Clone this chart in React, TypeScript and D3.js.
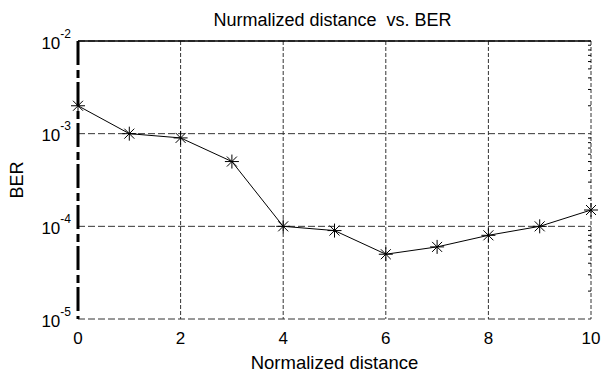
import React from "react";
import * as d3 from "d3";

const xValues = [0, 1, 2, 3, 4, 5, 6, 7, 8, 9, 10];
const berValues = [2e-3, 1e-3, 9e-4, 5e-4, 1e-4, 9e-5, 5e-5, 6e-5, 8e-5, 1e-4, 1.5e-4];
const xTicks = [0, 2, 4, 6, 8, 10];
const yTickExps = [-2, -3, -4, -5];

const W = 603, H = 376;
const L = 78, R = 591, T = 41, B = 319;

export default function App() {
  const x = d3.scaleLinear().domain([0, 10]).range([L, R]);
  const y = d3.scaleLog().domain([1e-5, 1e-2]).range([B, T]);
  const line = d3.line<number>().x((_, i) => x(xValues[i])).y((d) => y(d));
  const minor: number[] = [];
  for (let e = -5; e < -2; e++) for (let m = 2; m <= 9; m++) minor.push(m * Math.pow(10, e));
  const font = "Liberation Sans, Arial, sans-serif";
  return (
    <svg width={W} height={H} style={{ position: "absolute", left: 0, top: 0, background: "#fff" }}>
      <rect x={0} y={0} width={W} height={H} fill="#fff" />
      {/* grid */}
      {xTicks.slice(1).map((t) => (
        <line key={"gx" + t} x1={x(t)} x2={x(t)} y1={T} y2={B} stroke="#333" strokeWidth={1} strokeDasharray="4,2" />
      ))}
      {yTickExps.map((e) => (
        <line key={"gy" + e} x1={L} x2={R} y1={y(Math.pow(10, e))} y2={y(Math.pow(10, e))} stroke="#333" strokeWidth={1} strokeDasharray="7,3" />
      ))}
      {/* top axis */}
      <line x1={L} x2={R} y1={T} y2={T} stroke="#000" strokeWidth={1.5} />
      {/* right minor ticks */}
      {minor.map((m, i) => (
        <line key={"mt" + i} x1={R - 3} x2={R} y1={y(m)} y2={y(m)} stroke="#000" strokeWidth={1} />
      ))}
      {/* left thick dashed axis */}
      <line x1={L} x2={L} y1={T} y2={B} stroke="#000" strokeWidth={3} strokeDasharray="24,5,8,4" />
      {/* data */}
      <path d={line(berValues) || ""} fill="none" stroke="#000" strokeWidth={1} />
      {berValues.map((v, i) => {
        const cx = x(xValues[i]), cy = y(v), s = 7, d = 5;
        return (
          <g key={"m" + i} stroke="#000" strokeWidth={1}>
            <line x1={cx - s} x2={cx + s} y1={cy} y2={cy} />
            <line x1={cx} x2={cx} y1={cy - s} y2={cy + s} />
            <line x1={cx - d} x2={cx + d} y1={cy - d} y2={cy + d} />
            <line x1={cx - d} x2={cx + d} y1={cy + d} y2={cy - d} />
          </g>
        );
      })}
      {/* tick labels */}
      {xTicks.map((t) => (
        <text key={"xl" + t} x={x(t)} y={B + 25} textAnchor="middle" fontFamily={font} fontSize={17} fill="#000">{t}</text>
      ))}
      {yTickExps.map((e) => (
        <text key={"yl" + e} x={L - 7} y={y(Math.pow(10, e)) + 7.5} textAnchor="end" fontFamily={font} fontSize={17} fill="#000">
          10
          <tspan fontSize={12} dy={-11}>{String(e)}</tspan>
        </text>
      ))}
      <text x={332.5} y={26} textAnchor="middle" fontFamily={font} fontSize={18} fill="#000" style={{ whiteSpace: "pre" }}>{"Nurmalized distance  vs. BER"}</text>
      <text x={334.5} y={369} textAnchor="middle" fontFamily={font} fontSize={18.5} fill="#000">Normalized distance</text>
      <text transform={`translate(23,${(T + B) / 2}) rotate(-90)`} textAnchor="middle" fontFamily={font} fontSize={18} fill="#000">BER</text>
    </svg>
  );
}
